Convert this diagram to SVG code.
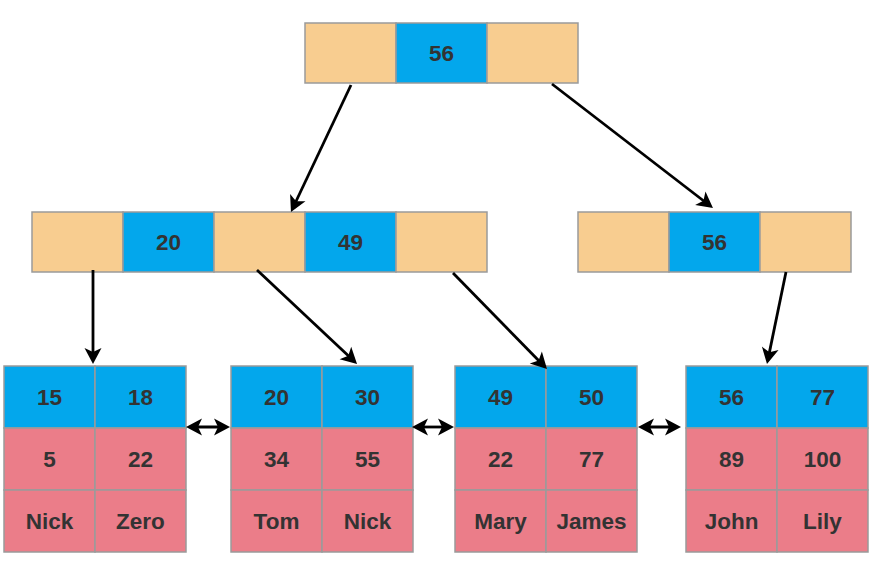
<svg xmlns="http://www.w3.org/2000/svg" width="875" height="569" viewBox="0 0 875 569">
<style>
.o{fill:#F8CD90;stroke:#9A9A9A;stroke-width:1.5}
.b{fill:#03A7EC;stroke:#9A9A9A;stroke-width:1.5}
.p{fill:#EB7D89;stroke:#9A9A9A;stroke-width:1.5}
text{font-family:"Liberation Sans",Arial,sans-serif;font-weight:bold;font-size:22.5px;fill:#333333;text-anchor:middle}
.c{fill:none;stroke:#000;stroke-width:2.8}
</style>
<defs>
<marker id="ah" markerUnits="userSpaceOnUse" markerWidth="22" markerHeight="22" viewBox="-2 -11 22 22" refX="11" refY="0" orient="auto-start-reverse">
<path d="M0,-8.5 L16,0 L0,8.5 L4,0 Z" fill="#000"/>
</marker>
</defs>
<rect width="875" height="569" fill="#fff"/>
<g id="root">
<rect class="o" x="305" y="23" width="91" height="60"/>
<rect class="b" x="396" y="23" width="91" height="60"/>
<rect class="o" x="487" y="23" width="91" height="60"/>
<text x="441.5" y="61">56</text>
</g>
<g id="inner-left">
<rect class="o" x="32" y="212" width="91" height="60"/>
<rect class="b" x="123" y="212" width="91" height="60"/>
<rect class="o" x="214" y="212" width="91" height="60"/>
<rect class="b" x="305" y="212" width="91" height="60"/>
<rect class="o" x="396" y="212" width="91" height="60"/>
<text x="168.5" y="250">20</text>
<text x="350.5" y="250">49</text>
</g>
<g id="inner-right">
<rect class="o" x="578" y="212" width="91" height="60"/>
<rect class="b" x="669" y="212" width="91" height="60"/>
<rect class="o" x="760" y="212" width="91" height="60"/>
<text x="714.5" y="250">56</text>
</g>
<g id="leaf1">
<rect class="b" x="4" y="366" width="91" height="62"/>
<rect class="b" x="95" y="366" width="91" height="62"/>
<rect class="p" x="4" y="428" width="91" height="62"/>
<rect class="p" x="95" y="428" width="91" height="62"/>
<rect class="p" x="4" y="490" width="91" height="62"/>
<rect class="p" x="95" y="490" width="91" height="62"/>
<text x="49.5" y="405">15</text>
<text x="140.5" y="405">18</text>
<text x="49.5" y="467">5</text>
<text x="140.5" y="467">22</text>
<text x="49.5" y="529">Nick</text>
<text x="140.5" y="529">Zero</text>
</g>
<g id="leaf2">
<rect class="b" x="231" y="366" width="91" height="62"/>
<rect class="b" x="322" y="366" width="91" height="62"/>
<rect class="p" x="231" y="428" width="91" height="62"/>
<rect class="p" x="322" y="428" width="91" height="62"/>
<rect class="p" x="231" y="490" width="91" height="62"/>
<rect class="p" x="322" y="490" width="91" height="62"/>
<text x="276.5" y="405">20</text>
<text x="367.5" y="405">30</text>
<text x="276.5" y="467">34</text>
<text x="367.5" y="467">55</text>
<text x="276.5" y="529">Tom</text>
<text x="367.5" y="529">Nick</text>
</g>
<g id="leaf3">
<rect class="b" x="455" y="366" width="91" height="62"/>
<rect class="b" x="546" y="366" width="91" height="62"/>
<rect class="p" x="455" y="428" width="91" height="62"/>
<rect class="p" x="546" y="428" width="91" height="62"/>
<rect class="p" x="455" y="490" width="91" height="62"/>
<rect class="p" x="546" y="490" width="91" height="62"/>
<text x="500.5" y="405">49</text>
<text x="591.5" y="405">50</text>
<text x="500.5" y="467">22</text>
<text x="591.5" y="467">77</text>
<text x="500.5" y="529">Mary</text>
<text x="591.5" y="529">James</text>
</g>
<g id="leaf4">
<rect class="b" x="686" y="366" width="91" height="62"/>
<rect class="b" x="777" y="366" width="91" height="62"/>
<rect class="p" x="686" y="428" width="91" height="62"/>
<rect class="p" x="777" y="428" width="91" height="62"/>
<rect class="p" x="686" y="490" width="91" height="62"/>
<rect class="p" x="777" y="490" width="91" height="62"/>
<text x="731.5" y="405">56</text>
<text x="822.5" y="405">77</text>
<text x="731.5" y="467">89</text>
<text x="822.5" y="467">100</text>
<text x="731.5" y="529">John</text>
<text x="822.5" y="529">Lily</text>
</g>
<g id="connectors">
<path class="c" d="M351,85 L293.1,207.5" marker-end="url(#ah)"/>
<path class="c" d="M552,84 L709,205" marker-end="url(#ah)"/>
<path class="c" d="M93,270 L93,359" marker-end="url(#ah)"/>
<path class="c" d="M257,270 L353.4,360.6" marker-end="url(#ah)"/>
<path class="c" d="M453,273 L543.5,365.4" marker-end="url(#ah)"/>
<path class="c" d="M786,272 L768,359.1" marker-end="url(#ah)"/>
<path class="c" d="M191,427 L225,427" marker-start="url(#ah)" marker-end="url(#ah)"/>
<path class="c" d="M417,427 L449,427" marker-start="url(#ah)" marker-end="url(#ah)"/>
<path class="c" d="M643,427 L676,427" marker-start="url(#ah)" marker-end="url(#ah)"/>
</g>
</svg>
